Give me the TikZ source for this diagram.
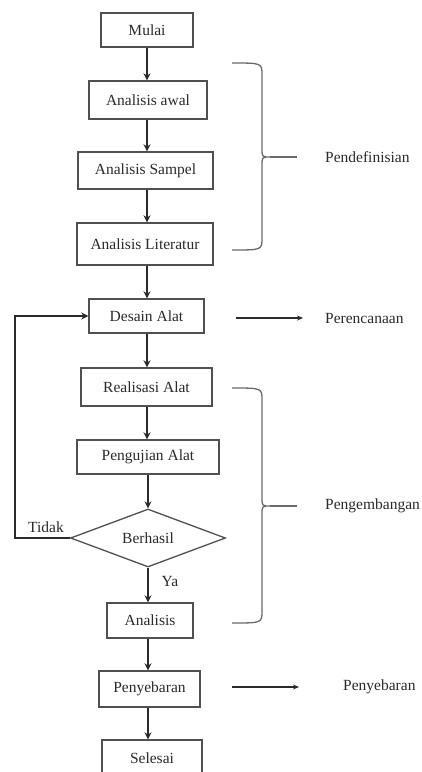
\documentclass[tikz,border=0pt]{standalone}
\usepackage{fontspec}
\setmainfont{Liberation Serif}
\usetikzlibrary{shapes.geometric,arrows.meta}
\definecolor{ink}{HTML}{2A2A2A}
\definecolor{boxc}{HTML}{505050}
\definecolor{brc}{HTML}{6A6A6A}
\begin{document}
\begin{tikzpicture}[x=1pt,y=-1pt,
  every node/.style={font=\fontsize{15.5}{17}\selectfont, text=ink},
  boxn/.style={draw=boxc, line width=1.4pt, inner sep=0pt},
  flow/.style={draw=ink, line width=2.4pt, -{Stealth[length=7pt,width=7pt]}},
  side/.style={draw=ink, line width=1.1pt, -{Stealth[length=6pt,width=5pt]}},
  brace/.style={draw=brc, line width=1.3pt},
  lbl/.style={anchor=west, inner sep=0pt}]
\useasboundingbox (0,0) rectangle (421,772);
% boxes
\node[boxn, minimum width=92pt, minimum height=34pt] (mulai) at (147,30) {Mulai};
\node[boxn, minimum width=118pt, minimum height=38pt] (awal) at (148,100) {Analisis awal};
\node[boxn, minimum width=135pt, minimum height=37pt] (sampel) at (145.5,170.5) {Analisis Sampel};
\node[boxn, minimum width=136pt, minimum height=42pt] (lit) at (145,244) {Analisis Literatur};
\node[boxn, minimum width=115pt, minimum height=34pt] (desain) at (146.5,316) {Desain Alat};
\node[boxn, minimum width=131pt, minimum height=38pt] (real) at (146.5,387) {Realisasi Alat};
\node[boxn, minimum width=142pt, minimum height=34pt] (uji) at (148,457) {Pengujian Alat};
\node[draw=boxc, line width=1.3pt, diamond, aspect=2.67, inner sep=0pt, minimum width=155pt, minimum height=58pt] (dia) at (148,538) {Berhasil};
\node[boxn, minimum width=86pt, minimum height=35pt] (anl) at (150,620.5) {Analisis};
\node[boxn, minimum width=101pt, minimum height=36pt] (peny) at (149.5,689) {Penyebaran};
\node[boxn, minimum width=100pt, minimum height=36pt] (sel) at (152,758) {Selesai};
% flow arrows
\draw[flow] (mulai.south) -- (mulai.south |- awal.north);
\draw[flow] (awal.south -| 147,0) -- (147,0 |- sampel.north);
\draw[flow] (sampel.south -| 147,0) -- (147,0 |- lit.north);
\draw[flow] (lit.south -| 147,0) -- (147,0 |- desain.north);
\draw[flow] (desain.south -| 147,0) -- (147,0 |- real.north);
\draw[flow] (real.south -| 147,0) -- (147,0 |- uji.north);
\draw[flow] (uji.south -| 148,0) -- (dia.north);
\draw[flow] (dia.south) -- (dia.south |- anl.north);
\draw[flow] (anl.south -| 148,0) -- (148,0 |- peny.north);
\draw[flow] (peny.south -| 148,0) -- (148,0 |- sel.north);
% loop back
\coordinate (lp) at (15,538);
\draw[flow] (dia.west) -- (lp) |- (desain.west);
\node[inner sep=0pt] (tidak) at (46,527) {Tidak};
\node[inner sep=0pt] (ya) at (170,581) {Ya};
% braces
\draw[brace] (232,63) .. controls (262,63) .. (262,75) -- (262,148) .. controls (262,157) .. (270,157) .. controls (262,157) .. (262,166) -- (262,238) .. controls (262,250) .. (232,250);
\coordinate (b1) at (270,157);
\coordinate (b1e) at (297,157);
\draw[brace] (b1) -- (b1e);
\node[lbl] (pend) at (325,157) {Pendefinisian};
\draw[brace] (232,388) .. controls (262,388) .. (262,400) -- (262,497) .. controls (262,506) .. (270,506) .. controls (262,506) .. (262,515) -- (262,611) .. controls (262,623) .. (232,623);
\coordinate (b2) at (270,506);
\coordinate (b2e) at (297,506);
\draw[brace] (b2) -- (b2e);
\node[lbl] (peng) at (325,506) {Pengembangan};
% side arrows
\coordinate (s1) at (236,318);
\coordinate (s1e) at (303,318);
\draw[side] (s1) -- (s1e);
\node[lbl] (renc) at (325,318) {Perencanaan};
\coordinate (s2) at (232,687);
\coordinate (s2e) at (299,687);
\draw[side] (s2) -- (s2e);
\node[lbl] (penyl) at (343,687) {Penyebaran};
\end{tikzpicture}
\end{document}
